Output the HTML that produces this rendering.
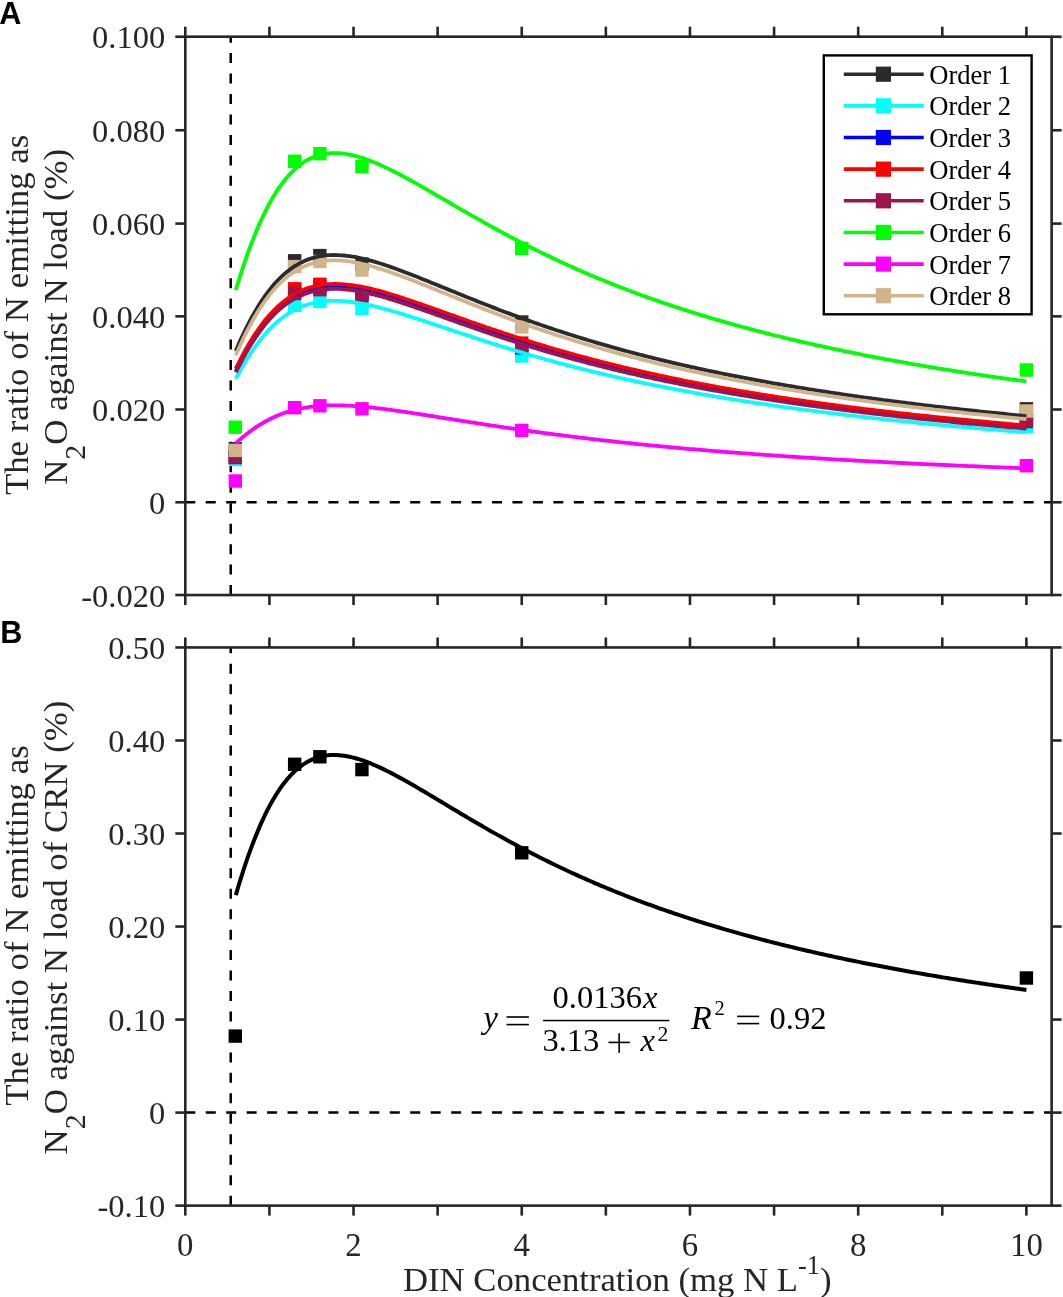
<!DOCTYPE html><html><head><meta charset="utf-8"><style>
html,body{margin:0;padding:0;background:#fff;}
svg{display:block;will-change:transform;}
text{font-family:"Liberation Serif",serif;}
</style></head><body>
<svg width="1063" height="1297" viewBox="0 0 1063 1297">
<rect x="0" y="0" width="1063" height="1297" fill="#fff"/>
<line x1="230.72" y1="595.05" x2="230.72" y2="36.70" stroke="#000" stroke-width="2.5" stroke-dasharray="10 10.46"/>
<line x1="185.30" y1="502.30" x2="1051.63" y2="502.30" stroke="#000" stroke-width="2.5" stroke-dasharray="10 10.447"/>
<rect x="228.60" y="442.10" width="13.4" height="13.4" fill="#2b2b2b"/>
<rect x="287.94" y="254.10" width="13.4" height="13.4" fill="#2b2b2b"/>
<rect x="313.18" y="248.90" width="13.4" height="13.4" fill="#2b2b2b"/>
<rect x="355.23" y="257.30" width="13.4" height="13.4" fill="#2b2b2b"/>
<rect x="515.04" y="315.30" width="13.4" height="13.4" fill="#2b2b2b"/>
<rect x="1019.70" y="402.10" width="13.4" height="13.4" fill="#2b2b2b"/>
<rect x="228.60" y="452.70" width="13.4" height="13.4" fill="#00ffff"/>
<rect x="287.94" y="298.60" width="13.4" height="13.4" fill="#00ffff"/>
<rect x="313.18" y="294.80" width="13.4" height="13.4" fill="#00ffff"/>
<rect x="355.23" y="301.70" width="13.4" height="13.4" fill="#00ffff"/>
<rect x="515.04" y="349.30" width="13.4" height="13.4" fill="#00ffff"/>
<rect x="1019.70" y="419.80" width="13.4" height="13.4" fill="#00ffff"/>
<rect x="228.60" y="450.80" width="13.4" height="13.4" fill="#0000ff"/>
<rect x="287.94" y="284.30" width="13.4" height="13.4" fill="#0000ff"/>
<rect x="313.18" y="280.30" width="13.4" height="13.4" fill="#0000ff"/>
<rect x="355.23" y="287.80" width="13.4" height="13.4" fill="#0000ff"/>
<rect x="515.04" y="341.10" width="13.4" height="13.4" fill="#0000ff"/>
<rect x="1019.70" y="414.80" width="13.4" height="13.4" fill="#0000ff"/>
<rect x="228.60" y="449.80" width="13.4" height="13.4" fill="#ff0000"/>
<rect x="287.94" y="282.10" width="13.4" height="13.4" fill="#ff0000"/>
<rect x="313.18" y="277.60" width="13.4" height="13.4" fill="#ff0000"/>
<rect x="355.23" y="286.30" width="13.4" height="13.4" fill="#ff0000"/>
<rect x="515.04" y="336.40" width="13.4" height="13.4" fill="#ff0000"/>
<rect x="1019.70" y="413.30" width="13.4" height="13.4" fill="#ff0000"/>
<rect x="228.60" y="450.40" width="13.4" height="13.4" fill="#9e1450"/>
<rect x="287.94" y="286.80" width="13.4" height="13.4" fill="#9e1450"/>
<rect x="313.18" y="283.00" width="13.4" height="13.4" fill="#9e1450"/>
<rect x="355.23" y="289.30" width="13.4" height="13.4" fill="#9e1450"/>
<rect x="515.04" y="338.70" width="13.4" height="13.4" fill="#9e1450"/>
<rect x="1019.70" y="414.30" width="13.4" height="13.4" fill="#9e1450"/>
<rect x="228.60" y="420.50" width="13.4" height="13.4" fill="#00ff00"/>
<rect x="287.94" y="154.60" width="13.4" height="13.4" fill="#00ff00"/>
<rect x="313.18" y="147.00" width="13.4" height="13.4" fill="#00ff00"/>
<rect x="355.23" y="159.80" width="13.4" height="13.4" fill="#00ff00"/>
<rect x="515.04" y="241.70" width="13.4" height="13.4" fill="#00ff00"/>
<rect x="1019.70" y="363.30" width="13.4" height="13.4" fill="#00ff00"/>
<rect x="228.60" y="474.30" width="13.4" height="13.4" fill="#ff00ff"/>
<rect x="287.94" y="401.00" width="13.4" height="13.4" fill="#ff00ff"/>
<rect x="313.18" y="399.10" width="13.4" height="13.4" fill="#ff00ff"/>
<rect x="355.23" y="402.10" width="13.4" height="13.4" fill="#ff00ff"/>
<rect x="515.04" y="423.70" width="13.4" height="13.4" fill="#ff00ff"/>
<rect x="1019.70" y="459.00" width="13.4" height="13.4" fill="#ff00ff"/>
<rect x="228.60" y="443.70" width="13.4" height="13.4" fill="#d2b48c"/>
<rect x="287.94" y="259.90" width="13.4" height="13.4" fill="#d2b48c"/>
<rect x="313.18" y="254.80" width="13.4" height="13.4" fill="#d2b48c"/>
<rect x="355.23" y="263.40" width="13.4" height="13.4" fill="#d2b48c"/>
<rect x="515.04" y="320.30" width="13.4" height="13.4" fill="#d2b48c"/>
<rect x="1019.70" y="404.30" width="13.4" height="13.4" fill="#d2b48c"/>
<path d="M235.77,350.88 L238.41,344.77 L241.05,338.89 L243.70,333.24 L246.34,327.82 L248.99,322.62 L251.63,317.66 L254.28,312.92 L256.92,308.41 L259.56,304.11 L262.21,300.04 L264.85,296.18 L267.50,292.54 L270.14,289.10 L272.79,285.87 L275.43,282.83 L278.07,279.99 L280.72,277.33 L283.36,274.86 L286.01,272.56 L288.65,270.44 L291.30,268.48 L293.94,266.68 L296.58,265.03 L299.23,263.53 L301.87,262.17 L304.52,260.95 L307.16,259.86 L309.81,258.90 L312.45,258.05 L315.09,257.32 L317.74,256.70 L320.38,256.19 L323.03,255.77 L325.67,255.45 L328.32,255.22 L330.96,255.08 L333.60,255.02 L336.25,255.03 L338.89,255.12 L341.54,255.28 L344.18,255.50 L346.82,255.79 L349.47,256.14 L352.11,256.54 L354.76,256.99 L357.40,257.49 L360.05,258.04 L362.69,258.63 L365.33,259.27 L367.98,259.94 L370.62,260.65 L373.27,261.39 L375.91,262.16 L378.56,262.96 L381.20,263.79 L383.84,264.64 L386.49,265.52 L389.13,266.42 L391.78,267.34 L394.42,268.28 L397.07,269.23 L399.71,270.20 L402.35,271.19 L405.00,272.19 L407.64,273.20 L410.29,274.22 L412.93,275.25 L415.58,276.29 L418.22,277.33 L420.86,278.39 L423.51,279.45 L426.15,280.51 L428.80,281.58 L431.44,282.65 L434.09,283.73 L436.73,284.80 L439.37,285.88 L442.02,286.96 L444.66,288.04 L447.31,289.12 L449.95,290.20 L452.60,291.28 L455.24,292.36 L457.88,293.43 L460.53,294.51 L463.17,295.58 L465.82,296.65 L468.46,297.71 L471.11,298.77 L473.75,299.83 L476.39,300.88 L479.04,301.93 L481.68,302.98 L484.33,304.02 L486.97,305.05 L489.62,306.09 L492.26,307.11 L494.90,308.13 L497.55,309.15 L500.19,310.16 L502.84,311.16 L505.48,312.16 L508.12,313.15 L510.77,314.13 L513.41,315.11 L516.06,316.09 L518.70,317.06 L521.35,318.02 L523.99,318.97 L526.63,319.92 L529.28,320.86 L531.92,321.80 L534.57,322.73 L537.21,323.65 L539.86,324.57 L542.50,325.48 L545.14,326.38 L547.79,327.28 L550.43,328.17 L553.08,329.05 L555.72,329.93 L558.37,330.80 L561.01,331.67 L563.65,332.53 L566.30,333.38 L568.94,334.22 L571.59,335.06 L574.23,335.90 L576.88,336.72 L579.52,337.54 L582.16,338.36 L584.81,339.16 L587.45,339.96 L590.10,340.76 L592.74,341.55 L595.39,342.33 L598.03,343.11 L600.67,343.88 L603.32,344.64 L605.96,345.40 L608.61,346.16 L611.25,346.90 L613.90,347.64 L616.54,348.38 L619.18,349.11 L621.83,349.83 L624.47,350.55 L627.12,351.26 L629.76,351.97 L632.41,352.67 L635.05,353.37 L637.69,354.06 L640.34,354.74 L642.98,355.42 L645.63,356.10 L648.27,356.76 L650.91,357.43 L653.56,358.09 L656.20,358.74 L658.85,359.39 L661.49,360.03 L664.14,360.67 L666.78,361.30 L669.42,361.93 L672.07,362.55 L674.71,363.17 L677.36,363.79 L680.00,364.40 L682.65,365.00 L685.29,365.60 L687.93,366.20 L690.58,366.79 L693.22,367.37 L695.87,367.95 L698.51,368.53 L701.16,369.10 L703.80,369.67 L706.44,370.24 L709.09,370.80 L711.73,371.35 L714.38,371.90 L717.02,372.45 L719.67,372.99 L722.31,373.53 L724.95,374.07 L727.60,374.60 L730.24,375.12 L732.89,375.65 L735.53,376.17 L738.18,376.68 L740.82,377.19 L743.46,377.70 L746.11,378.20 L748.75,378.70 L751.40,379.20 L754.04,379.69 L756.69,380.18 L759.33,380.67 L761.97,381.15 L764.62,381.63 L767.26,382.10 L769.91,382.58 L772.55,383.04 L775.20,383.51 L777.84,383.97 L780.48,384.43 L783.13,384.88 L785.77,385.34 L788.42,385.78 L791.06,386.23 L793.71,386.67 L796.35,387.11 L798.99,387.55 L801.64,387.98 L804.28,388.41 L806.93,388.84 L809.57,389.26 L812.21,389.68 L814.86,390.10 L817.50,390.51 L820.15,390.93 L822.79,391.34 L825.44,391.74 L828.08,392.15 L830.72,392.55 L833.37,392.95 L836.01,393.34 L838.66,393.73 L841.30,394.12 L843.95,394.51 L846.59,394.90 L849.23,395.28 L851.88,395.66 L854.52,396.04 L857.17,396.41 L859.81,396.78 L862.46,397.15 L865.10,397.52 L867.74,397.89 L870.39,398.25 L873.03,398.61 L875.68,398.97 L878.32,399.32 L880.97,399.68 L883.61,400.03 L886.25,400.38 L888.90,400.72 L891.54,401.07 L894.19,401.41 L896.83,401.75 L899.48,402.09 L902.12,402.42 L904.76,402.75 L907.41,403.09 L910.05,403.41 L912.70,403.74 L915.34,404.07 L917.99,404.39 L920.63,404.71 L923.27,405.03 L925.92,405.35 L928.56,405.66 L931.21,405.97 L933.85,406.28 L936.50,406.59 L939.14,406.90 L941.78,407.21 L944.43,407.51 L947.07,407.81 L949.72,408.11 L952.36,408.41 L955.00,408.71 L957.65,409.00 L960.29,409.29 L962.94,409.58 L965.58,409.87 L968.23,410.16 L970.87,410.45 L973.51,410.73 L976.16,411.01 L978.80,411.29 L981.45,411.57 L984.09,411.85 L986.74,412.12 L989.38,412.40 L992.02,412.67 L994.67,412.94 L997.31,413.21 L999.96,413.48 L1002.60,413.74 L1005.25,414.01 L1007.89,414.27 L1010.53,414.53 L1013.18,414.79 L1015.82,415.05 L1018.47,415.31 L1021.11,415.57 L1023.76,415.82 L1026.40,416.07" fill="none" stroke="#2b2b2b" stroke-width="3.8" stroke-linejoin="round"/>
<path d="M235.77,378.96 L238.41,373.98 L241.05,369.18 L243.70,364.57 L246.34,360.15 L248.99,355.91 L251.63,351.86 L254.28,347.99 L256.92,344.31 L259.56,340.81 L262.21,337.48 L264.85,334.34 L267.50,331.36 L270.14,328.56 L272.79,325.92 L275.43,323.44 L278.07,321.12 L280.72,318.96 L283.36,316.94 L286.01,315.07 L288.65,313.33 L291.30,311.73 L293.94,310.27 L296.58,308.92 L299.23,307.70 L301.87,306.60 L304.52,305.60 L307.16,304.72 L309.81,303.93 L312.45,303.25 L315.09,302.66 L317.74,302.16 L320.38,301.74 L323.03,301.40 L325.67,301.15 L328.32,300.96 L330.96,300.85 L333.60,300.81 L336.25,300.82 L338.89,300.90 L341.54,301.03 L344.18,301.22 L346.82,301.46 L349.47,301.75 L352.11,302.08 L354.76,302.45 L357.40,302.87 L360.05,303.32 L362.69,303.81 L365.33,304.33 L367.98,304.88 L370.62,305.46 L373.27,306.07 L375.91,306.70 L378.56,307.36 L381.20,308.04 L383.84,308.74 L386.49,309.46 L389.13,310.20 L391.78,310.95 L394.42,311.72 L397.07,312.51 L399.71,313.30 L402.35,314.11 L405.00,314.93 L407.64,315.76 L410.29,316.59 L412.93,317.44 L415.58,318.29 L418.22,319.14 L420.86,320.01 L423.51,320.87 L426.15,321.74 L428.80,322.62 L431.44,323.50 L434.09,324.38 L436.73,325.26 L439.37,326.14 L442.02,327.02 L444.66,327.91 L447.31,328.79 L449.95,329.67 L452.60,330.55 L455.24,331.44 L457.88,332.32 L460.53,333.19 L463.17,334.07 L465.82,334.94 L468.46,335.81 L471.11,336.68 L473.75,337.54 L476.39,338.40 L479.04,339.26 L481.68,340.12 L484.33,340.97 L486.97,341.81 L489.62,342.65 L492.26,343.49 L494.90,344.32 L497.55,345.15 L500.19,345.98 L502.84,346.80 L505.48,347.61 L508.12,348.42 L510.77,349.23 L513.41,350.03 L516.06,350.82 L518.70,351.61 L521.35,352.40 L523.99,353.18 L526.63,353.95 L529.28,354.72 L531.92,355.48 L534.57,356.24 L537.21,357.00 L539.86,357.74 L542.50,358.49 L545.14,359.22 L547.79,359.96 L550.43,360.68 L553.08,361.40 L555.72,362.12 L558.37,362.83 L561.01,363.54 L563.65,364.24 L566.30,364.93 L568.94,365.62 L571.59,366.31 L574.23,366.98 L576.88,367.66 L579.52,368.33 L582.16,368.99 L584.81,369.65 L587.45,370.30 L590.10,370.95 L592.74,371.59 L595.39,372.23 L598.03,372.87 L600.67,373.49 L603.32,374.12 L605.96,374.74 L608.61,375.35 L611.25,375.96 L613.90,376.56 L616.54,377.16 L619.18,377.76 L621.83,378.35 L624.47,378.93 L627.12,379.51 L629.76,380.09 L632.41,380.66 L635.05,381.23 L637.69,381.79 L640.34,382.35 L642.98,382.90 L645.63,383.45 L648.27,384.00 L650.91,384.54 L653.56,385.07 L656.20,385.61 L658.85,386.13 L661.49,386.66 L664.14,387.18 L666.78,387.69 L669.42,388.20 L672.07,388.71 L674.71,389.22 L677.36,389.72 L680.00,390.21 L682.65,390.71 L685.29,391.19 L687.93,391.68 L690.58,392.16 L693.22,392.64 L695.87,393.11 L698.51,393.58 L701.16,394.05 L703.80,394.51 L706.44,394.97 L709.09,395.42 L711.73,395.88 L714.38,396.33 L717.02,396.77 L719.67,397.21 L722.31,397.65 L724.95,398.09 L727.60,398.52 L730.24,398.95 L732.89,399.37 L735.53,399.80 L738.18,400.22 L740.82,400.63 L743.46,401.05 L746.11,401.46 L748.75,401.86 L751.40,402.27 L754.04,402.67 L756.69,403.07 L759.33,403.46 L761.97,403.85 L764.62,404.24 L767.26,404.63 L769.91,405.01 L772.55,405.40 L775.20,405.77 L777.84,406.15 L780.48,406.52 L783.13,406.89 L785.77,407.26 L788.42,407.62 L791.06,407.99 L793.71,408.35 L796.35,408.70 L798.99,409.06 L801.64,409.41 L804.28,409.76 L806.93,410.11 L809.57,410.45 L812.21,410.80 L814.86,411.14 L817.50,411.47 L820.15,411.81 L822.79,412.14 L825.44,412.47 L828.08,412.80 L830.72,413.13 L833.37,413.45 L836.01,413.77 L838.66,414.09 L841.30,414.41 L843.95,414.73 L846.59,415.04 L849.23,415.35 L851.88,415.66 L854.52,415.97 L857.17,416.27 L859.81,416.57 L862.46,416.88 L865.10,417.17 L867.74,417.47 L870.39,417.77 L873.03,418.06 L875.68,418.35 L878.32,418.64 L880.97,418.93 L883.61,419.21 L886.25,419.50 L888.90,419.78 L891.54,420.06 L894.19,420.34 L896.83,420.61 L899.48,420.89 L902.12,421.16 L904.76,421.43 L907.41,421.70 L910.05,421.97 L912.70,422.23 L915.34,422.50 L917.99,422.76 L920.63,423.02 L923.27,423.28 L925.92,423.54 L928.56,423.79 L931.21,424.05 L933.85,424.30 L936.50,424.55 L939.14,424.80 L941.78,425.05 L944.43,425.30 L947.07,425.54 L949.72,425.79 L952.36,426.03 L955.00,426.27 L957.65,426.51 L960.29,426.75 L962.94,426.98 L965.58,427.22 L968.23,427.45 L970.87,427.68 L973.51,427.92 L976.16,428.14 L978.80,428.37 L981.45,428.60 L984.09,428.83 L986.74,429.05 L989.38,429.27 L992.02,429.49 L994.67,429.71 L997.31,429.93 L999.96,430.15 L1002.60,430.37 L1005.25,430.58 L1007.89,430.80 L1010.53,431.01 L1013.18,431.22 L1015.82,431.43 L1018.47,431.64 L1021.11,431.85 L1023.76,432.05 L1026.40,432.26" fill="none" stroke="#00ffff" stroke-width="3.8" stroke-linejoin="round"/>
<path d="M235.77,371.24 L238.41,365.93 L241.05,360.80 L243.70,355.88 L246.34,351.15 L248.99,346.61 L251.63,342.28 L254.28,338.13 L256.92,334.19 L259.56,330.43 L262.21,326.87 L264.85,323.49 L267.50,320.29 L270.14,317.28 L272.79,314.44 L275.43,311.77 L278.07,309.27 L280.72,306.93 L283.36,304.75 L286.01,302.73 L288.65,300.85 L291.30,299.12 L293.94,297.53 L296.58,296.07 L299.23,294.74 L301.87,293.54 L304.52,292.45 L307.16,291.48 L309.81,290.62 L312.45,289.86 L315.09,289.21 L317.74,288.65 L320.38,288.18 L323.03,287.80 L325.67,287.51 L328.32,287.29 L330.96,287.15 L333.60,287.08 L336.25,287.08 L338.89,287.14 L341.54,287.27 L344.18,287.45 L346.82,287.69 L349.47,287.97 L352.11,288.31 L354.76,288.70 L357.40,289.13 L360.05,289.59 L362.69,290.10 L365.33,290.64 L367.98,291.22 L370.62,291.83 L373.27,292.47 L375.91,293.13 L378.56,293.83 L381.20,294.54 L383.84,295.28 L386.49,296.04 L389.13,296.82 L391.78,297.62 L394.42,298.43 L397.07,299.26 L399.71,300.10 L402.35,300.96 L405.00,301.82 L407.64,302.70 L410.29,303.59 L412.93,304.48 L415.58,305.39 L418.22,306.30 L420.86,307.21 L423.51,308.13 L426.15,309.06 L428.80,309.99 L431.44,310.92 L434.09,311.86 L436.73,312.80 L439.37,313.74 L442.02,314.68 L444.66,315.62 L447.31,316.56 L449.95,317.50 L452.60,318.44 L455.24,319.38 L457.88,320.32 L460.53,321.25 L463.17,322.18 L465.82,323.12 L468.46,324.04 L471.11,324.97 L473.75,325.89 L476.39,326.81 L479.04,327.73 L481.68,328.64 L484.33,329.54 L486.97,330.45 L489.62,331.35 L492.26,332.24 L494.90,333.13 L497.55,334.02 L500.19,334.90 L502.84,335.77 L505.48,336.64 L508.12,337.51 L510.77,338.37 L513.41,339.22 L516.06,340.07 L518.70,340.92 L521.35,341.76 L523.99,342.59 L526.63,343.42 L529.28,344.24 L531.92,345.06 L534.57,345.87 L537.21,346.67 L539.86,347.47 L542.50,348.27 L545.14,349.06 L547.79,349.84 L550.43,350.62 L553.08,351.39 L555.72,352.15 L558.37,352.91 L561.01,353.67 L563.65,354.42 L566.30,355.16 L568.94,355.90 L571.59,356.63 L574.23,357.36 L576.88,358.08 L579.52,358.79 L582.16,359.50 L584.81,360.21 L587.45,360.91 L590.10,361.60 L592.74,362.29 L595.39,362.97 L598.03,363.65 L600.67,364.32 L603.32,364.99 L605.96,365.65 L608.61,366.31 L611.25,366.96 L613.90,367.61 L616.54,368.25 L619.18,368.89 L621.83,369.52 L624.47,370.14 L627.12,370.77 L629.76,371.38 L632.41,372.00 L635.05,372.60 L637.69,373.20 L640.34,373.80 L642.98,374.40 L645.63,374.98 L648.27,375.57 L650.91,376.15 L653.56,376.72 L656.20,377.29 L658.85,377.86 L661.49,378.42 L664.14,378.98 L666.78,379.53 L669.42,380.08 L672.07,380.62 L674.71,381.16 L677.36,381.70 L680.00,382.23 L682.65,382.75 L685.29,383.28 L687.93,383.80 L690.58,384.31 L693.22,384.82 L695.87,385.33 L698.51,385.83 L701.16,386.33 L703.80,386.83 L706.44,387.32 L709.09,387.81 L711.73,388.29 L714.38,388.77 L717.02,389.25 L719.67,389.73 L722.31,390.20 L724.95,390.66 L727.60,391.12 L730.24,391.58 L732.89,392.04 L735.53,392.49 L738.18,392.94 L740.82,393.39 L743.46,393.83 L746.11,394.27 L748.75,394.71 L751.40,395.14 L754.04,395.57 L756.69,396.00 L759.33,396.42 L761.97,396.84 L764.62,397.26 L767.26,397.67 L769.91,398.08 L772.55,398.49 L775.20,398.90 L777.84,399.30 L780.48,399.70 L783.13,400.10 L785.77,400.49 L788.42,400.88 L791.06,401.27 L793.71,401.65 L796.35,402.04 L798.99,402.42 L801.64,402.80 L804.28,403.17 L806.93,403.54 L809.57,403.91 L812.21,404.28 L814.86,404.64 L817.50,405.01 L820.15,405.36 L822.79,405.72 L825.44,406.08 L828.08,406.43 L830.72,406.78 L833.37,407.13 L836.01,407.47 L838.66,407.81 L841.30,408.15 L843.95,408.49 L846.59,408.83 L849.23,409.16 L851.88,409.49 L854.52,409.82 L857.17,410.15 L859.81,410.47 L862.46,410.79 L865.10,411.11 L867.74,411.43 L870.39,411.75 L873.03,412.06 L875.68,412.37 L878.32,412.68 L880.97,412.99 L883.61,413.30 L886.25,413.60 L888.90,413.90 L891.54,414.20 L894.19,414.50 L896.83,414.80 L899.48,415.09 L902.12,415.38 L904.76,415.68 L907.41,415.96 L910.05,416.25 L912.70,416.54 L915.34,416.82 L917.99,417.10 L920.63,417.38 L923.27,417.66 L925.92,417.93 L928.56,418.21 L931.21,418.48 L933.85,418.75 L936.50,419.02 L939.14,419.29 L941.78,419.56 L944.43,419.82 L947.07,420.08 L949.72,420.34 L952.36,420.60 L955.00,420.86 L957.65,421.12 L960.29,421.37 L962.94,421.63 L965.58,421.88 L968.23,422.13 L970.87,422.38 L973.51,422.63 L976.16,422.87 L978.80,423.12 L981.45,423.36 L984.09,423.60 L986.74,423.84 L989.38,424.08 L992.02,424.32 L994.67,424.55 L997.31,424.79 L999.96,425.02 L1002.60,425.25 L1005.25,425.48 L1007.89,425.71 L1010.53,425.94 L1013.18,426.17 L1015.82,426.39 L1018.47,426.62 L1021.11,426.84 L1023.76,427.06 L1026.40,427.28" fill="none" stroke="#0000ff" stroke-width="3.8" stroke-linejoin="round"/>
<path d="M235.77,368.68 L238.41,363.30 L241.05,358.13 L243.70,353.15 L246.34,348.38 L248.99,343.81 L251.63,339.44 L254.28,335.27 L256.92,331.29 L259.56,327.51 L262.21,323.93 L264.85,320.53 L267.50,317.32 L270.14,314.29 L272.79,311.43 L275.43,308.76 L278.07,306.25 L280.72,303.90 L283.36,301.71 L286.01,299.68 L288.65,297.80 L291.30,296.06 L293.94,294.47 L296.58,293.01 L299.23,291.67 L301.87,290.46 L304.52,289.38 L307.16,288.40 L309.81,287.54 L312.45,286.78 L315.09,286.12 L317.74,285.56 L320.38,285.09 L323.03,284.71 L325.67,284.41 L328.32,284.20 L330.96,284.05 L333.60,283.98 L336.25,283.98 L338.89,284.04 L341.54,284.17 L344.18,284.35 L346.82,284.58 L349.47,284.87 L352.11,285.21 L354.76,285.59 L357.40,286.02 L360.05,286.48 L362.69,286.99 L365.33,287.53 L367.98,288.11 L370.62,288.72 L373.27,289.36 L375.91,290.02 L378.56,290.71 L381.20,291.43 L383.84,292.17 L386.49,292.93 L389.13,293.71 L391.78,294.50 L394.42,295.32 L397.07,296.15 L399.71,296.99 L402.35,297.85 L405.00,298.71 L407.64,299.59 L410.29,300.48 L412.93,301.38 L415.58,302.28 L418.22,303.20 L420.86,304.11 L423.51,305.04 L426.15,305.97 L428.80,306.90 L431.44,307.83 L434.09,308.77 L436.73,309.71 L439.37,310.66 L442.02,311.60 L444.66,312.54 L447.31,313.49 L449.95,314.43 L452.60,315.38 L455.24,316.32 L457.88,317.26 L460.53,318.20 L463.17,319.14 L465.82,320.07 L468.46,321.01 L471.11,321.94 L473.75,322.86 L476.39,323.79 L479.04,324.71 L481.68,325.62 L484.33,326.53 L486.97,327.44 L489.62,328.35 L492.26,329.25 L494.90,330.14 L497.55,331.03 L500.19,331.92 L502.84,332.80 L505.48,333.68 L508.12,334.55 L510.77,335.41 L513.41,336.27 L516.06,337.13 L518.70,337.98 L521.35,338.82 L523.99,339.66 L526.63,340.50 L529.28,341.33 L531.92,342.15 L534.57,342.97 L537.21,343.78 L539.86,344.59 L542.50,345.39 L545.14,346.18 L547.79,346.97 L550.43,347.76 L553.08,348.53 L555.72,349.31 L558.37,350.07 L561.01,350.83 L563.65,351.59 L566.30,352.34 L568.94,353.09 L571.59,353.82 L574.23,354.56 L576.88,355.29 L579.52,356.01 L582.16,356.73 L584.81,357.44 L587.45,358.14 L590.10,358.84 L592.74,359.54 L595.39,360.23 L598.03,360.91 L600.67,361.59 L603.32,362.27 L605.96,362.94 L608.61,363.60 L611.25,364.26 L613.90,364.91 L616.54,365.56 L619.18,366.21 L621.83,366.84 L624.47,367.48 L627.12,368.11 L629.76,368.73 L632.41,369.35 L635.05,369.96 L637.69,370.57 L640.34,371.18 L642.98,371.78 L645.63,372.37 L648.27,372.96 L650.91,373.55 L653.56,374.13 L656.20,374.71 L658.85,375.28 L661.49,375.85 L664.14,376.41 L666.78,376.97 L669.42,377.53 L672.07,378.08 L674.71,378.63 L677.36,379.17 L680.00,379.71 L682.65,380.24 L685.29,380.77 L687.93,381.30 L690.58,381.82 L693.22,382.34 L695.87,382.85 L698.51,383.36 L701.16,383.87 L703.80,384.37 L706.44,384.87 L709.09,385.36 L711.73,385.85 L714.38,386.34 L717.02,386.83 L719.67,387.31 L722.31,387.78 L724.95,388.26 L727.60,388.72 L730.24,389.19 L732.89,389.65 L735.53,390.11 L738.18,390.57 L740.82,391.02 L743.46,391.47 L746.11,391.92 L748.75,392.36 L751.40,392.80 L754.04,393.23 L756.69,393.67 L759.33,394.10 L761.97,394.52 L764.62,394.95 L767.26,395.37 L769.91,395.78 L772.55,396.20 L775.20,396.61 L777.84,397.02 L780.48,397.43 L783.13,397.83 L785.77,398.23 L788.42,398.63 L791.06,399.02 L793.71,399.41 L796.35,399.80 L798.99,400.19 L801.64,400.57 L804.28,400.95 L806.93,401.33 L809.57,401.70 L812.21,402.08 L814.86,402.45 L817.50,402.81 L820.15,403.18 L822.79,403.54 L825.44,403.90 L828.08,404.26 L830.72,404.62 L833.37,404.97 L836.01,405.32 L838.66,405.67 L841.30,406.01 L843.95,406.36 L846.59,406.70 L849.23,407.04 L851.88,407.37 L854.52,407.71 L857.17,408.04 L859.81,408.37 L862.46,408.70 L865.10,409.02 L867.74,409.35 L870.39,409.67 L873.03,409.99 L875.68,410.31 L878.32,410.62 L880.97,410.93 L883.61,411.25 L886.25,411.55 L888.90,411.86 L891.54,412.17 L894.19,412.47 L896.83,412.77 L899.48,413.07 L902.12,413.37 L904.76,413.66 L907.41,413.96 L910.05,414.25 L912.70,414.54 L915.34,414.83 L917.99,415.11 L920.63,415.40 L923.27,415.68 L925.92,415.96 L928.56,416.24 L931.21,416.52 L933.85,416.79 L936.50,417.07 L939.14,417.34 L941.78,417.61 L944.43,417.88 L947.07,418.15 L949.72,418.42 L952.36,418.68 L955.00,418.94 L957.65,419.20 L960.29,419.46 L962.94,419.72 L965.58,419.98 L968.23,420.23 L970.87,420.49 L973.51,420.74 L976.16,420.99 L978.80,421.24 L981.45,421.49 L984.09,421.73 L986.74,421.98 L989.38,422.22 L992.02,422.46 L994.67,422.70 L997.31,422.94 L999.96,423.18 L1002.60,423.41 L1005.25,423.65 L1007.89,423.88 L1010.53,424.11 L1013.18,424.35 L1015.82,424.58 L1018.47,424.80 L1021.11,425.03 L1023.76,425.26 L1026.40,425.48" fill="none" stroke="#ff0000" stroke-width="3.8" stroke-linejoin="round"/>
<path d="M235.77,372.41 L238.41,367.12 L241.05,362.02 L243.70,357.12 L246.34,352.41 L248.99,347.90 L251.63,343.58 L254.28,339.46 L256.92,335.53 L259.56,331.79 L262.21,328.24 L264.85,324.88 L267.50,321.70 L270.14,318.70 L272.79,315.88 L275.43,313.23 L278.07,310.74 L280.72,308.42 L283.36,306.26 L286.01,304.25 L288.65,302.38 L291.30,300.67 L293.94,299.09 L296.58,297.65 L299.23,296.33 L301.87,295.14 L304.52,294.07 L307.16,293.12 L309.81,292.27 L312.45,291.53 L315.09,290.89 L317.74,290.34 L320.38,289.89 L323.03,289.53 L325.67,289.24 L328.32,289.04 L330.96,288.91 L333.60,288.86 L336.25,288.87 L338.89,288.95 L341.54,289.09 L344.18,289.28 L346.82,289.53 L349.47,289.83 L352.11,290.18 L354.76,290.58 L357.40,291.02 L360.05,291.50 L362.69,292.02 L365.33,292.57 L367.98,293.16 L370.62,293.78 L373.27,294.42 L375.91,295.10 L378.56,295.80 L381.20,296.53 L383.84,297.27 L386.49,298.04 L389.13,298.83 L391.78,299.63 L394.42,300.45 L397.07,301.29 L399.71,302.13 L402.35,303.00 L405.00,303.87 L407.64,304.75 L410.29,305.64 L412.93,306.54 L415.58,307.45 L418.22,308.37 L420.86,309.29 L423.51,310.21 L426.15,311.14 L428.80,312.07 L431.44,313.01 L434.09,313.95 L436.73,314.89 L439.37,315.83 L442.02,316.77 L444.66,317.72 L447.31,318.66 L449.95,319.60 L452.60,320.54 L455.24,321.48 L457.88,322.42 L460.53,323.35 L463.17,324.29 L465.82,325.22 L468.46,326.15 L471.11,327.07 L473.75,327.99 L476.39,328.91 L479.04,329.83 L481.68,330.74 L484.33,331.64 L486.97,332.55 L489.62,333.44 L492.26,334.34 L494.90,335.22 L497.55,336.11 L500.19,336.99 L502.84,337.86 L505.48,338.73 L508.12,339.59 L510.77,340.45 L513.41,341.30 L516.06,342.15 L518.70,342.99 L521.35,343.82 L523.99,344.66 L526.63,345.48 L529.28,346.30 L531.92,347.11 L534.57,347.92 L537.21,348.72 L539.86,349.52 L542.50,350.31 L545.14,351.09 L547.79,351.87 L550.43,352.65 L553.08,353.42 L555.72,354.18 L558.37,354.93 L561.01,355.68 L563.65,356.43 L566.30,357.17 L568.94,357.90 L571.59,358.63 L574.23,359.35 L576.88,360.07 L579.52,360.78 L582.16,361.49 L584.81,362.19 L587.45,362.88 L590.10,363.57 L592.74,364.26 L595.39,364.94 L598.03,365.61 L600.67,366.28 L603.32,366.94 L605.96,367.60 L608.61,368.25 L611.25,368.90 L613.90,369.54 L616.54,370.18 L619.18,370.81 L621.83,371.43 L624.47,372.06 L627.12,372.67 L629.76,373.29 L632.41,373.89 L635.05,374.50 L637.69,375.09 L640.34,375.69 L642.98,376.27 L645.63,376.86 L648.27,377.44 L650.91,378.01 L653.56,378.58 L656.20,379.15 L658.85,379.71 L661.49,380.26 L664.14,380.82 L666.78,381.36 L669.42,381.91 L672.07,382.45 L674.71,382.98 L677.36,383.51 L680.00,384.04 L682.65,384.56 L685.29,385.08 L687.93,385.59 L690.58,386.10 L693.22,386.61 L695.87,387.11 L698.51,387.61 L701.16,388.11 L703.80,388.60 L706.44,389.09 L709.09,389.57 L711.73,390.05 L714.38,390.52 L717.02,391.00 L719.67,391.47 L722.31,391.93 L724.95,392.39 L727.60,392.85 L730.24,393.31 L732.89,393.76 L735.53,394.21 L738.18,394.65 L740.82,395.09 L743.46,395.53 L746.11,395.97 L748.75,396.40 L751.40,396.83 L754.04,397.25 L756.69,397.67 L759.33,398.09 L761.97,398.51 L764.62,398.92 L767.26,399.33 L769.91,399.74 L772.55,400.14 L775.20,400.54 L777.84,400.94 L780.48,401.34 L783.13,401.73 L785.77,402.12 L788.42,402.51 L791.06,402.89 L793.71,403.27 L796.35,403.65 L798.99,404.02 L801.64,404.40 L804.28,404.77 L806.93,405.14 L809.57,405.50 L812.21,405.86 L814.86,406.23 L817.50,406.58 L820.15,406.94 L822.79,407.29 L825.44,407.64 L828.08,407.99 L830.72,408.33 L833.37,408.68 L836.01,409.02 L838.66,409.36 L841.30,409.69 L843.95,410.03 L846.59,410.36 L849.23,410.69 L851.88,411.02 L854.52,411.34 L857.17,411.66 L859.81,411.98 L862.46,412.30 L865.10,412.62 L867.74,412.93 L870.39,413.25 L873.03,413.56 L875.68,413.86 L878.32,414.17 L880.97,414.47 L883.61,414.78 L886.25,415.08 L888.90,415.37 L891.54,415.67 L894.19,415.97 L896.83,416.26 L899.48,416.55 L902.12,416.84 L904.76,417.12 L907.41,417.41 L910.05,417.69 L912.70,417.97 L915.34,418.25 L917.99,418.53 L920.63,418.81 L923.27,419.08 L925.92,419.35 L928.56,419.62 L931.21,419.89 L933.85,420.16 L936.50,420.43 L939.14,420.69 L941.78,420.95 L944.43,421.21 L947.07,421.47 L949.72,421.73 L952.36,421.99 L955.00,422.24 L957.65,422.50 L960.29,422.75 L962.94,423.00 L965.58,423.25 L968.23,423.49 L970.87,423.74 L973.51,423.98 L976.16,424.23 L978.80,424.47 L981.45,424.71 L984.09,424.94 L986.74,425.18 L989.38,425.42 L992.02,425.65 L994.67,425.88 L997.31,426.12 L999.96,426.35 L1002.60,426.57 L1005.25,426.80 L1007.89,427.03 L1010.53,427.25 L1013.18,427.48 L1015.82,427.70 L1018.47,427.92 L1021.11,428.14 L1023.76,428.36 L1026.40,428.57" fill="none" stroke="#9e1450" stroke-width="3.8" stroke-linejoin="round"/>
<path d="M235.77,290.07 L238.41,281.42 L241.05,273.08 L243.70,265.06 L246.34,257.36 L248.99,249.98 L251.63,242.91 L254.28,236.16 L256.92,229.73 L259.56,223.61 L262.21,217.80 L264.85,212.30 L267.50,207.09 L270.14,202.17 L272.79,197.54 L275.43,193.20 L278.07,189.12 L280.72,185.31 L283.36,181.77 L286.01,178.47 L288.65,175.41 L291.30,172.59 L293.94,170.00 L296.58,167.62 L299.23,165.46 L301.87,163.50 L304.52,161.74 L307.16,160.16 L309.81,158.76 L312.45,157.54 L315.09,156.48 L317.74,155.57 L320.38,154.82 L323.03,154.21 L325.67,153.73 L328.32,153.39 L330.96,153.17 L333.60,153.06 L336.25,153.07 L338.89,153.18 L341.54,153.40 L344.18,153.70 L346.82,154.10 L349.47,154.58 L352.11,155.14 L354.76,155.78 L357.40,156.49 L360.05,157.26 L362.69,158.10 L365.33,158.99 L367.98,159.94 L370.62,160.95 L373.27,162.00 L375.91,163.09 L378.56,164.23 L381.20,165.41 L383.84,166.62 L386.49,167.87 L389.13,169.15 L391.78,170.45 L394.42,171.79 L397.07,173.15 L399.71,174.53 L402.35,175.93 L405.00,177.35 L407.64,178.79 L410.29,180.24 L412.93,181.71 L415.58,183.19 L418.22,184.68 L420.86,186.18 L423.51,187.68 L426.15,189.20 L428.80,190.72 L431.44,192.25 L434.09,193.78 L436.73,195.31 L439.37,196.85 L442.02,198.39 L444.66,199.93 L447.31,201.46 L449.95,203.00 L452.60,204.54 L455.24,206.07 L457.88,207.60 L460.53,209.13 L463.17,210.66 L465.82,212.18 L468.46,213.69 L471.11,215.20 L473.75,216.71 L476.39,218.21 L479.04,219.70 L481.68,221.19 L484.33,222.67 L486.97,224.15 L489.62,225.61 L492.26,227.07 L494.90,228.52 L497.55,229.97 L500.19,231.40 L502.84,232.83 L505.48,234.25 L508.12,235.66 L510.77,237.06 L513.41,238.46 L516.06,239.84 L518.70,241.22 L521.35,242.59 L523.99,243.94 L526.63,245.29 L529.28,246.63 L531.92,247.96 L534.57,249.28 L537.21,250.60 L539.86,251.90 L542.50,253.19 L545.14,254.48 L547.79,255.75 L550.43,257.02 L553.08,258.27 L555.72,259.52 L558.37,260.76 L561.01,261.99 L563.65,263.21 L566.30,264.42 L568.94,265.62 L571.59,266.81 L574.23,267.99 L576.88,269.17 L579.52,270.33 L582.16,271.49 L584.81,272.63 L587.45,273.77 L590.10,274.90 L592.74,276.02 L595.39,277.13 L598.03,278.23 L600.67,279.33 L603.32,280.41 L605.96,281.49 L608.61,282.56 L611.25,283.62 L613.90,284.67 L616.54,285.71 L619.18,286.74 L621.83,287.77 L624.47,288.79 L627.12,289.80 L629.76,290.80 L632.41,291.80 L635.05,292.78 L637.69,293.76 L640.34,294.73 L642.98,295.70 L645.63,296.65 L648.27,297.60 L650.91,298.54 L653.56,299.48 L656.20,300.40 L658.85,301.32 L661.49,302.23 L664.14,303.14 L666.78,304.03 L669.42,304.92 L672.07,305.81 L674.71,306.68 L677.36,307.55 L680.00,308.42 L682.65,309.27 L685.29,310.12 L687.93,310.97 L690.58,311.80 L693.22,312.63 L695.87,313.46 L698.51,314.27 L701.16,315.08 L703.80,315.89 L706.44,316.69 L709.09,317.48 L711.73,318.27 L714.38,319.05 L717.02,319.82 L719.67,320.59 L722.31,321.35 L724.95,322.11 L727.60,322.86 L730.24,323.61 L732.89,324.35 L735.53,325.08 L738.18,325.81 L740.82,326.53 L743.46,327.25 L746.11,327.96 L748.75,328.67 L751.40,329.37 L754.04,330.07 L756.69,330.76 L759.33,331.45 L761.97,332.13 L764.62,332.81 L767.26,333.48 L769.91,334.15 L772.55,334.81 L775.20,335.47 L777.84,336.12 L780.48,336.77 L783.13,337.41 L785.77,338.05 L788.42,338.68 L791.06,339.31 L793.71,339.94 L796.35,340.56 L798.99,341.18 L801.64,341.79 L804.28,342.40 L806.93,343.00 L809.57,343.60 L812.21,344.19 L814.86,344.78 L817.50,345.37 L820.15,345.95 L822.79,346.53 L825.44,347.11 L828.08,347.68 L830.72,348.24 L833.37,348.81 L836.01,349.36 L838.66,349.92 L841.30,350.47 L843.95,351.02 L846.59,351.56 L849.23,352.10 L851.88,352.64 L854.52,353.17 L857.17,353.70 L859.81,354.23 L862.46,354.75 L865.10,355.27 L867.74,355.78 L870.39,356.30 L873.03,356.80 L875.68,357.31 L878.32,357.81 L880.97,358.31 L883.61,358.81 L886.25,359.30 L888.90,359.79 L891.54,360.27 L894.19,360.76 L896.83,361.24 L899.48,361.71 L902.12,362.19 L904.76,362.66 L907.41,363.12 L910.05,363.59 L912.70,364.05 L915.34,364.51 L917.99,364.96 L920.63,365.42 L923.27,365.87 L925.92,366.31 L928.56,366.76 L931.21,367.20 L933.85,367.64 L936.50,368.07 L939.14,368.51 L941.78,368.94 L944.43,369.37 L947.07,369.79 L949.72,370.21 L952.36,370.64 L955.00,371.05 L957.65,371.47 L960.29,371.88 L962.94,372.29 L965.58,372.70 L968.23,373.10 L970.87,373.51 L973.51,373.91 L976.16,374.31 L978.80,374.70 L981.45,375.09 L984.09,375.49 L986.74,375.87 L989.38,376.26 L992.02,376.64 L994.67,377.03 L997.31,377.41 L999.96,377.78 L1002.60,378.16 L1005.25,378.53 L1007.89,378.90 L1010.53,379.27 L1013.18,379.64 L1015.82,380.00 L1018.47,380.36 L1021.11,380.73 L1023.76,381.08 L1026.40,381.44" fill="none" stroke="#00ff00" stroke-width="3.8" stroke-linejoin="round"/>
<path d="M235.77,443.26 L238.41,440.87 L241.05,438.56 L243.70,436.35 L246.34,434.22 L248.99,432.18 L251.63,430.23 L254.28,428.36 L256.92,426.58 L259.56,424.89 L262.21,423.29 L264.85,421.77 L267.50,420.33 L270.14,418.97 L272.79,417.69 L275.43,416.48 L278.07,415.36 L280.72,414.30 L283.36,413.32 L286.01,412.41 L288.65,411.56 L291.30,410.78 L293.94,410.06 L296.58,409.40 L299.23,408.80 L301.87,408.26 L304.52,407.76 L307.16,407.32 L309.81,406.93 L312.45,406.59 L315.09,406.30 L317.74,406.04 L320.38,405.83 L323.03,405.66 L325.67,405.52 L328.32,405.42 L330.96,405.35 L333.60,405.32 L336.25,405.32 L338.89,405.34 L341.54,405.40 L344.18,405.48 L346.82,405.58 L349.47,405.71 L352.11,405.86 L354.76,406.03 L357.40,406.22 L360.05,406.43 L362.69,406.66 L365.33,406.90 L367.98,407.16 L370.62,407.43 L373.27,407.72 L375.91,408.02 L378.56,408.33 L381.20,408.65 L383.84,408.98 L386.49,409.32 L389.13,409.67 L391.78,410.03 L394.42,410.39 L397.07,410.76 L399.71,411.14 L402.35,411.52 L405.00,411.91 L407.64,412.31 L410.29,412.71 L412.93,413.11 L415.58,413.51 L418.22,413.92 L420.86,414.33 L423.51,414.75 L426.15,415.16 L428.80,415.58 L431.44,416.00 L434.09,416.42 L436.73,416.84 L439.37,417.27 L442.02,417.69 L444.66,418.11 L447.31,418.53 L449.95,418.96 L452.60,419.38 L455.24,419.80 L457.88,420.22 L460.53,420.64 L463.17,421.06 L465.82,421.48 L468.46,421.90 L471.11,422.32 L473.75,422.73 L476.39,423.14 L479.04,423.56 L481.68,423.97 L484.33,424.37 L486.97,424.78 L489.62,425.18 L492.26,425.59 L494.90,425.99 L497.55,426.38 L500.19,426.78 L502.84,427.17 L505.48,427.57 L508.12,427.96 L510.77,428.34 L513.41,428.73 L516.06,429.11 L518.70,429.49 L521.35,429.87 L523.99,430.24 L526.63,430.61 L529.28,430.98 L531.92,431.35 L534.57,431.72 L537.21,432.08 L539.86,432.44 L542.50,432.80 L545.14,433.15 L547.79,433.50 L550.43,433.85 L553.08,434.20 L555.72,434.54 L558.37,434.89 L561.01,435.23 L563.65,435.56 L566.30,435.90 L568.94,436.23 L571.59,436.56 L574.23,436.89 L576.88,437.21 L579.52,437.53 L582.16,437.85 L584.81,438.17 L587.45,438.48 L590.10,438.80 L592.74,439.11 L595.39,439.41 L598.03,439.72 L600.67,440.02 L603.32,440.32 L605.96,440.62 L608.61,440.92 L611.25,441.21 L613.90,441.50 L616.54,441.79 L619.18,442.08 L621.83,442.36 L624.47,442.64 L627.12,442.92 L629.76,443.20 L632.41,443.47 L635.05,443.75 L637.69,444.02 L640.34,444.29 L642.98,444.55 L645.63,444.82 L648.27,445.08 L650.91,445.34 L653.56,445.60 L656.20,445.86 L658.85,446.11 L661.49,446.37 L664.14,446.62 L666.78,446.86 L669.42,447.11 L672.07,447.36 L674.71,447.60 L677.36,447.84 L680.00,448.08 L682.65,448.32 L685.29,448.55 L687.93,448.79 L690.58,449.02 L693.22,449.25 L695.87,449.48 L698.51,449.70 L701.16,449.93 L703.80,450.15 L706.44,450.37 L709.09,450.59 L711.73,450.81 L714.38,451.03 L717.02,451.24 L719.67,451.46 L722.31,451.67 L724.95,451.88 L727.60,452.09 L730.24,452.29 L732.89,452.50 L735.53,452.70 L738.18,452.90 L740.82,453.10 L743.46,453.30 L746.11,453.50 L748.75,453.70 L751.40,453.89 L754.04,454.09 L756.69,454.28 L759.33,454.47 L761.97,454.66 L764.62,454.85 L767.26,455.03 L769.91,455.22 L772.55,455.40 L775.20,455.58 L777.84,455.77 L780.48,455.95 L783.13,456.12 L785.77,456.30 L788.42,456.48 L791.06,456.65 L793.71,456.83 L796.35,457.00 L798.99,457.17 L801.64,457.34 L804.28,457.51 L806.93,457.68 L809.57,457.84 L812.21,458.01 L814.86,458.17 L817.50,458.33 L820.15,458.50 L822.79,458.66 L825.44,458.82 L828.08,458.97 L830.72,459.13 L833.37,459.29 L836.01,459.44 L838.66,459.60 L841.30,459.75 L843.95,459.90 L846.59,460.05 L849.23,460.20 L851.88,460.35 L854.52,460.50 L857.17,460.65 L859.81,460.80 L862.46,460.94 L865.10,461.08 L867.74,461.23 L870.39,461.37 L873.03,461.51 L875.68,461.65 L878.32,461.79 L880.97,461.93 L883.61,462.07 L886.25,462.20 L888.90,462.34 L891.54,462.48 L894.19,462.61 L896.83,462.74 L899.48,462.88 L902.12,463.01 L904.76,463.14 L907.41,463.27 L910.05,463.40 L912.70,463.53 L915.34,463.65 L917.99,463.78 L920.63,463.91 L923.27,464.03 L925.92,464.15 L928.56,464.28 L931.21,464.40 L933.85,464.52 L936.50,464.64 L939.14,464.77 L941.78,464.88 L944.43,465.00 L947.07,465.12 L949.72,465.24 L952.36,465.36 L955.00,465.47 L957.65,465.59 L960.29,465.70 L962.94,465.82 L965.58,465.93 L968.23,466.04 L970.87,466.16 L973.51,466.27 L976.16,466.38 L978.80,466.49 L981.45,466.60 L984.09,466.71 L986.74,466.81 L989.38,466.92 L992.02,467.03 L994.67,467.13 L997.31,467.24 L999.96,467.35 L1002.60,467.45 L1005.25,467.55 L1007.89,467.66 L1010.53,467.76 L1013.18,467.86 L1015.82,467.96 L1018.47,468.06 L1021.11,468.16 L1023.76,468.26 L1026.40,468.36" fill="none" stroke="#ff00ff" stroke-width="3.8" stroke-linejoin="round"/>
<path d="M235.77,355.21 L238.41,349.20 L241.05,343.42 L243.70,337.85 L246.34,332.50 L248.99,327.38 L251.63,322.48 L254.28,317.80 L256.92,313.33 L259.56,309.09 L262.21,305.05 L264.85,301.23 L267.50,297.62 L270.14,294.21 L272.79,291.01 L275.43,287.99 L278.07,285.17 L280.72,282.53 L283.36,280.08 L286.01,277.79 L288.65,275.68 L291.30,273.73 L293.94,271.94 L296.58,270.30 L299.23,268.81 L301.87,267.46 L304.52,266.25 L307.16,265.16 L309.81,264.20 L312.45,263.36 L315.09,262.64 L317.74,262.02 L320.38,261.51 L323.03,261.10 L325.67,260.79 L328.32,260.56 L330.96,260.42 L333.60,260.36 L336.25,260.38 L338.89,260.47 L341.54,260.63 L344.18,260.85 L346.82,261.14 L349.47,261.49 L352.11,261.89 L354.76,262.35 L357.40,262.85 L360.05,263.40 L362.69,263.99 L365.33,264.62 L367.98,265.29 L370.62,266.00 L373.27,266.74 L375.91,267.51 L378.56,268.31 L381.20,269.14 L383.84,269.99 L386.49,270.87 L389.13,271.77 L391.78,272.68 L394.42,273.62 L397.07,274.57 L399.71,275.54 L402.35,276.52 L405.00,277.51 L407.64,278.52 L410.29,279.54 L412.93,280.56 L415.58,281.60 L418.22,282.64 L420.86,283.69 L423.51,284.74 L426.15,285.80 L428.80,286.86 L431.44,287.93 L434.09,289.00 L436.73,290.07 L439.37,291.14 L442.02,292.21 L444.66,293.28 L447.31,294.36 L449.95,295.43 L452.60,296.50 L455.24,297.57 L457.88,298.63 L460.53,299.70 L463.17,300.76 L465.82,301.82 L468.46,302.88 L471.11,303.93 L473.75,304.98 L476.39,306.02 L479.04,307.06 L481.68,308.10 L484.33,309.13 L486.97,310.15 L489.62,311.17 L492.26,312.19 L494.90,313.20 L497.55,314.20 L500.19,315.20 L502.84,316.19 L505.48,317.18 L508.12,318.16 L510.77,319.13 L513.41,320.10 L516.06,321.06 L518.70,322.02 L521.35,322.97 L523.99,323.91 L526.63,324.85 L529.28,325.78 L531.92,326.70 L534.57,327.62 L537.21,328.53 L539.86,329.44 L542.50,330.34 L545.14,331.23 L547.79,332.11 L550.43,332.99 L553.08,333.86 L555.72,334.73 L558.37,335.59 L561.01,336.44 L563.65,337.28 L566.30,338.12 L568.94,338.96 L571.59,339.78 L574.23,340.60 L576.88,341.42 L579.52,342.23 L582.16,343.03 L584.81,343.82 L587.45,344.61 L590.10,345.39 L592.74,346.17 L595.39,346.94 L598.03,347.70 L600.67,348.46 L603.32,349.21 L605.96,349.96 L608.61,350.70 L611.25,351.43 L613.90,352.16 L616.54,352.88 L619.18,353.60 L621.83,354.31 L624.47,355.02 L627.12,355.72 L629.76,356.41 L632.41,357.10 L635.05,357.78 L637.69,358.46 L640.34,359.13 L642.98,359.80 L645.63,360.46 L648.27,361.12 L650.91,361.77 L653.56,362.42 L656.20,363.06 L658.85,363.70 L661.49,364.33 L664.14,364.95 L666.78,365.57 L669.42,366.19 L672.07,366.80 L674.71,367.41 L677.36,368.01 L680.00,368.61 L682.65,369.20 L685.29,369.79 L687.93,370.37 L690.58,370.95 L693.22,371.52 L695.87,372.09 L698.51,372.66 L701.16,373.22 L703.80,373.78 L706.44,374.33 L709.09,374.88 L711.73,375.42 L714.38,375.96 L717.02,376.49 L719.67,377.03 L722.31,377.55 L724.95,378.08 L727.60,378.60 L730.24,379.11 L732.89,379.62 L735.53,380.13 L738.18,380.64 L740.82,381.14 L743.46,381.63 L746.11,382.12 L748.75,382.61 L751.40,383.10 L754.04,383.58 L756.69,384.06 L759.33,384.53 L761.97,385.01 L764.62,385.47 L767.26,385.94 L769.91,386.40 L772.55,386.86 L775.20,387.31 L777.84,387.76 L780.48,388.21 L783.13,388.65 L785.77,389.10 L788.42,389.53 L791.06,389.97 L793.71,390.40 L796.35,390.83 L798.99,391.26 L801.64,391.68 L804.28,392.10 L806.93,392.51 L809.57,392.93 L812.21,393.34 L814.86,393.75 L817.50,394.15 L820.15,394.55 L822.79,394.95 L825.44,395.35 L828.08,395.75 L830.72,396.14 L833.37,396.53 L836.01,396.91 L838.66,397.29 L841.30,397.68 L843.95,398.05 L846.59,398.43 L849.23,398.80 L851.88,399.17 L854.52,399.54 L857.17,399.91 L859.81,400.27 L862.46,400.63 L865.10,400.99 L867.74,401.34 L870.39,401.70 L873.03,402.05 L875.68,402.40 L878.32,402.74 L880.97,403.09 L883.61,403.43 L886.25,403.77 L888.90,404.11 L891.54,404.44 L894.19,404.78 L896.83,405.11 L899.48,405.44 L902.12,405.76 L904.76,406.09 L907.41,406.41 L910.05,406.73 L912.70,407.05 L915.34,407.37 L917.99,407.68 L920.63,407.99 L923.27,408.30 L925.92,408.61 L928.56,408.92 L931.21,409.22 L933.85,409.53 L936.50,409.83 L939.14,410.13 L941.78,410.42 L944.43,410.72 L947.07,411.01 L949.72,411.30 L952.36,411.59 L955.00,411.88 L957.65,412.17 L960.29,412.45 L962.94,412.74 L965.58,413.02 L968.23,413.30 L970.87,413.57 L973.51,413.85 L976.16,414.13 L978.80,414.40 L981.45,414.67 L984.09,414.94 L986.74,415.21 L989.38,415.47 L992.02,415.74 L994.67,416.00 L997.31,416.26 L999.96,416.52 L1002.60,416.78 L1005.25,417.04 L1007.89,417.30 L1010.53,417.55 L1013.18,417.80 L1015.82,418.06 L1018.47,418.31 L1021.11,418.55 L1023.76,418.80 L1026.40,419.05" fill="none" stroke="#d2b48c" stroke-width="3.8" stroke-linejoin="round"/>
<rect x="185.30" y="36.70" width="866.33" height="558.35" fill="none" stroke="#262626" stroke-width="2.6"/>
<line x1="185.30" y1="595.05" x2="185.30" y2="605.05" stroke="#262626" stroke-width="2.6"/>
<line x1="185.30" y1="36.70" x2="185.30" y2="26.70" stroke="#262626" stroke-width="2.6"/>
<line x1="269.41" y1="595.05" x2="269.41" y2="605.05" stroke="#262626" stroke-width="2.6"/>
<line x1="269.41" y1="36.70" x2="269.41" y2="26.70" stroke="#262626" stroke-width="2.6"/>
<line x1="353.52" y1="595.05" x2="353.52" y2="605.05" stroke="#262626" stroke-width="2.6"/>
<line x1="353.52" y1="36.70" x2="353.52" y2="26.70" stroke="#262626" stroke-width="2.6"/>
<line x1="437.63" y1="595.05" x2="437.63" y2="605.05" stroke="#262626" stroke-width="2.6"/>
<line x1="437.63" y1="36.70" x2="437.63" y2="26.70" stroke="#262626" stroke-width="2.6"/>
<line x1="521.74" y1="595.05" x2="521.74" y2="605.05" stroke="#262626" stroke-width="2.6"/>
<line x1="521.74" y1="36.70" x2="521.74" y2="26.70" stroke="#262626" stroke-width="2.6"/>
<line x1="605.85" y1="595.05" x2="605.85" y2="605.05" stroke="#262626" stroke-width="2.6"/>
<line x1="605.85" y1="36.70" x2="605.85" y2="26.70" stroke="#262626" stroke-width="2.6"/>
<line x1="689.96" y1="595.05" x2="689.96" y2="605.05" stroke="#262626" stroke-width="2.6"/>
<line x1="689.96" y1="36.70" x2="689.96" y2="26.70" stroke="#262626" stroke-width="2.6"/>
<line x1="774.07" y1="595.05" x2="774.07" y2="605.05" stroke="#262626" stroke-width="2.6"/>
<line x1="774.07" y1="36.70" x2="774.07" y2="26.70" stroke="#262626" stroke-width="2.6"/>
<line x1="858.18" y1="595.05" x2="858.18" y2="605.05" stroke="#262626" stroke-width="2.6"/>
<line x1="858.18" y1="36.70" x2="858.18" y2="26.70" stroke="#262626" stroke-width="2.6"/>
<line x1="942.29" y1="595.05" x2="942.29" y2="605.05" stroke="#262626" stroke-width="2.6"/>
<line x1="942.29" y1="36.70" x2="942.29" y2="26.70" stroke="#262626" stroke-width="2.6"/>
<line x1="1026.40" y1="595.05" x2="1026.40" y2="605.05" stroke="#262626" stroke-width="2.6"/>
<line x1="1026.40" y1="36.70" x2="1026.40" y2="26.70" stroke="#262626" stroke-width="2.6"/>
<line x1="185.30" y1="36.75" x2="175.30" y2="36.75" stroke="#262626" stroke-width="2.6"/>
<line x1="1051.63" y1="36.75" x2="1061.63" y2="36.75" stroke="#262626" stroke-width="2.6"/>
<line x1="185.30" y1="130.25" x2="175.30" y2="130.25" stroke="#262626" stroke-width="2.6"/>
<line x1="1051.63" y1="130.25" x2="1061.63" y2="130.25" stroke="#262626" stroke-width="2.6"/>
<line x1="185.30" y1="223.60" x2="175.30" y2="223.60" stroke="#262626" stroke-width="2.6"/>
<line x1="1051.63" y1="223.60" x2="1061.63" y2="223.60" stroke="#262626" stroke-width="2.6"/>
<line x1="185.30" y1="316.35" x2="175.30" y2="316.35" stroke="#262626" stroke-width="2.6"/>
<line x1="1051.63" y1="316.35" x2="1061.63" y2="316.35" stroke="#262626" stroke-width="2.6"/>
<line x1="185.30" y1="409.50" x2="175.30" y2="409.50" stroke="#262626" stroke-width="2.6"/>
<line x1="1051.63" y1="409.50" x2="1061.63" y2="409.50" stroke="#262626" stroke-width="2.6"/>
<line x1="185.30" y1="502.30" x2="175.30" y2="502.30" stroke="#262626" stroke-width="2.6"/>
<line x1="1051.63" y1="502.30" x2="1061.63" y2="502.30" stroke="#262626" stroke-width="2.6"/>
<line x1="185.30" y1="595.00" x2="175.30" y2="595.00" stroke="#262626" stroke-width="2.6"/>
<line x1="1051.63" y1="595.00" x2="1061.63" y2="595.00" stroke="#262626" stroke-width="2.6"/>
<text x="165.2" y="48.35" font-size="32.5" fill="#262626" text-anchor="end">0.100</text>
<text x="165.2" y="141.85" font-size="32.5" fill="#262626" text-anchor="end">0.080</text>
<text x="165.2" y="235.20" font-size="32.5" fill="#262626" text-anchor="end">0.060</text>
<text x="165.2" y="327.95" font-size="32.5" fill="#262626" text-anchor="end">0.040</text>
<text x="165.2" y="421.10" font-size="32.5" fill="#262626" text-anchor="end">0.020</text>
<text x="165.2" y="513.90" font-size="32.5" fill="#262626" text-anchor="end">0</text>
<text x="165.2" y="606.60" font-size="32.5" fill="#262626" text-anchor="end">-0.020</text>
<rect x="823.8" y="55.4" width="207.80" height="258.90" fill="#fff" stroke="#000" stroke-width="2.4"/>
<line x1="843.8" y1="74.20" x2="923.7" y2="74.20" stroke="#2b2b2b" stroke-width="3.6"/>
<rect x="875.80" y="66.60" width="15.2" height="15.2" fill="#2b2b2b"/>
<text x="929.2" y="83.80" font-size="26.6" fill="#000">Order 1</text>
<line x1="843.8" y1="105.85" x2="923.7" y2="105.85" stroke="#00ffff" stroke-width="3.6"/>
<rect x="875.80" y="98.25" width="15.2" height="15.2" fill="#00ffff"/>
<text x="929.2" y="115.45" font-size="26.6" fill="#000">Order 2</text>
<line x1="843.8" y1="137.50" x2="923.7" y2="137.50" stroke="#0000ff" stroke-width="3.6"/>
<rect x="875.80" y="129.90" width="15.2" height="15.2" fill="#0000ff"/>
<text x="929.2" y="147.10" font-size="26.6" fill="#000">Order 3</text>
<line x1="843.8" y1="169.15" x2="923.7" y2="169.15" stroke="#ff0000" stroke-width="3.6"/>
<rect x="875.80" y="161.55" width="15.2" height="15.2" fill="#ff0000"/>
<text x="929.2" y="178.75" font-size="26.6" fill="#000">Order 4</text>
<line x1="843.8" y1="200.80" x2="923.7" y2="200.80" stroke="#9e1450" stroke-width="3.6"/>
<rect x="875.80" y="193.20" width="15.2" height="15.2" fill="#9e1450"/>
<text x="929.2" y="210.40" font-size="26.6" fill="#000">Order 5</text>
<line x1="843.8" y1="232.45" x2="923.7" y2="232.45" stroke="#00ff00" stroke-width="3.6"/>
<rect x="875.80" y="224.85" width="15.2" height="15.2" fill="#00ff00"/>
<text x="929.2" y="242.05" font-size="26.6" fill="#000">Order 6</text>
<line x1="843.8" y1="264.10" x2="923.7" y2="264.10" stroke="#ff00ff" stroke-width="3.6"/>
<rect x="875.80" y="256.50" width="15.2" height="15.2" fill="#ff00ff"/>
<text x="929.2" y="273.70" font-size="26.6" fill="#000">Order 7</text>
<line x1="843.8" y1="295.75" x2="923.7" y2="295.75" stroke="#d2b48c" stroke-width="3.6"/>
<rect x="875.80" y="288.15" width="15.2" height="15.2" fill="#d2b48c"/>
<text x="929.2" y="305.35" font-size="26.6" fill="#000">Order 8</text>
<line x1="230.72" y1="1205.63" x2="230.72" y2="647.45" stroke="#000" stroke-width="2.5" stroke-dasharray="10 10.46"/>
<line x1="185.30" y1="1112.60" x2="1051.63" y2="1112.60" stroke="#000" stroke-width="2.5" stroke-dasharray="10 10.447"/>
<rect x="228.60" y="1029.40" width="13.4" height="13.4" fill="#000"/>
<rect x="287.94" y="757.60" width="13.4" height="13.4" fill="#000"/>
<rect x="313.18" y="750.10" width="13.4" height="13.4" fill="#000"/>
<rect x="355.23" y="762.90" width="13.4" height="13.4" fill="#000"/>
<rect x="515.04" y="846.10" width="13.4" height="13.4" fill="#000"/>
<rect x="1019.70" y="971.30" width="13.4" height="13.4" fill="#000"/>
<path d="M235.77,895.09 L238.41,886.20 L241.05,877.64 L243.70,869.40 L246.34,861.49 L248.99,853.91 L251.63,846.66 L254.28,839.74 L256.92,833.14 L259.56,826.86 L262.21,820.91 L264.85,815.26 L267.50,809.93 L270.14,804.89 L272.79,800.15 L275.43,795.70 L278.07,791.54 L280.72,787.65 L283.36,784.02 L286.01,780.65 L288.65,777.54 L291.30,774.66 L293.94,772.02 L296.58,769.61 L299.23,767.42 L301.87,765.43 L304.52,763.64 L307.16,762.05 L309.81,760.64 L312.45,759.41 L315.09,758.35 L317.74,757.45 L320.38,756.70 L323.03,756.10 L325.67,755.64 L328.32,755.31 L330.96,755.11 L333.60,755.03 L336.25,755.07 L338.89,755.21 L341.54,755.46 L344.18,755.80 L346.82,756.23 L349.47,756.75 L352.11,757.35 L354.76,758.03 L357.40,758.78 L360.05,759.60 L362.69,760.48 L365.33,761.42 L367.98,762.42 L370.62,763.47 L373.27,764.57 L375.91,765.72 L378.56,766.91 L381.20,768.14 L383.84,769.40 L386.49,770.70 L389.13,772.03 L391.78,773.39 L394.42,774.78 L397.07,776.19 L399.71,777.62 L402.35,779.08 L405.00,780.55 L407.64,782.04 L410.29,783.55 L412.93,785.07 L415.58,786.60 L418.22,788.15 L420.86,789.70 L423.51,791.26 L426.15,792.83 L428.80,794.40 L431.44,795.98 L434.09,797.56 L436.73,799.15 L439.37,800.73 L442.02,802.32 L444.66,803.91 L447.31,805.50 L449.95,807.09 L452.60,808.67 L455.24,810.25 L457.88,811.83 L460.53,813.41 L463.17,814.98 L465.82,816.55 L468.46,818.11 L471.11,819.67 L473.75,821.22 L476.39,822.76 L479.04,824.30 L481.68,825.84 L484.33,827.36 L486.97,828.88 L489.62,830.39 L492.26,831.89 L494.90,833.38 L497.55,834.87 L500.19,836.35 L502.84,837.81 L505.48,839.27 L508.12,840.72 L510.77,842.17 L513.41,843.60 L516.06,845.02 L518.70,846.44 L521.35,847.84 L523.99,849.24 L526.63,850.62 L529.28,852.00 L531.92,853.37 L534.57,854.72 L537.21,856.07 L539.86,857.41 L542.50,858.74 L545.14,860.06 L547.79,861.37 L550.43,862.66 L553.08,863.95 L555.72,865.23 L558.37,866.50 L561.01,867.77 L563.65,869.02 L566.30,870.26 L568.94,871.49 L571.59,872.71 L574.23,873.93 L576.88,875.13 L579.52,876.32 L582.16,877.51 L584.81,878.68 L587.45,879.85 L590.10,881.01 L592.74,882.16 L595.39,883.29 L598.03,884.42 L600.67,885.55 L603.32,886.66 L605.96,887.76 L608.61,888.86 L611.25,889.94 L613.90,891.02 L616.54,892.09 L619.18,893.15 L621.83,894.20 L624.47,895.24 L627.12,896.28 L629.76,897.30 L632.41,898.32 L635.05,899.33 L637.69,900.34 L640.34,901.33 L642.98,902.32 L645.63,903.30 L648.27,904.27 L650.91,905.23 L653.56,906.19 L656.20,907.13 L658.85,908.07 L661.49,909.01 L664.14,909.93 L666.78,910.85 L669.42,911.76 L672.07,912.67 L674.71,913.56 L677.36,914.45 L680.00,915.34 L682.65,916.21 L685.29,917.08 L687.93,917.94 L690.58,918.80 L693.22,919.65 L695.87,920.49 L698.51,921.33 L701.16,922.16 L703.80,922.98 L706.44,923.80 L709.09,924.61 L711.73,925.41 L714.38,926.21 L717.02,927.00 L719.67,927.79 L722.31,928.57 L724.95,929.34 L727.60,930.11 L730.24,930.87 L732.89,931.63 L735.53,932.38 L738.18,933.12 L740.82,933.86 L743.46,934.60 L746.11,935.33 L748.75,936.05 L751.40,936.77 L754.04,937.48 L756.69,938.19 L759.33,938.89 L761.97,939.59 L764.62,940.28 L767.26,940.96 L769.91,941.65 L772.55,942.32 L775.20,942.99 L777.84,943.66 L780.48,944.32 L783.13,944.98 L785.77,945.63 L788.42,946.28 L791.06,946.92 L793.71,947.56 L796.35,948.20 L798.99,948.83 L801.64,949.45 L804.28,950.07 L806.93,950.69 L809.57,951.30 L812.21,951.91 L814.86,952.51 L817.50,953.11 L820.15,953.70 L822.79,954.30 L825.44,954.88 L828.08,955.46 L830.72,956.04 L833.37,956.62 L836.01,957.19 L838.66,957.76 L841.30,958.32 L843.95,958.88 L846.59,959.43 L849.23,959.98 L851.88,960.53 L854.52,961.08 L857.17,961.62 L859.81,962.15 L862.46,962.69 L865.10,963.22 L867.74,963.74 L870.39,964.27 L873.03,964.78 L875.68,965.30 L878.32,965.81 L880.97,966.32 L883.61,966.83 L886.25,967.33 L888.90,967.83 L891.54,968.33 L894.19,968.82 L896.83,969.31 L899.48,969.79 L902.12,970.28 L904.76,970.76 L907.41,971.23 L910.05,971.71 L912.70,972.18 L915.34,972.65 L917.99,973.11 L920.63,973.57 L923.27,974.03 L925.92,974.49 L928.56,974.94 L931.21,975.39 L933.85,975.84 L936.50,976.29 L939.14,976.73 L941.78,977.17 L944.43,977.60 L947.07,978.04 L949.72,978.47 L952.36,978.90 L955.00,979.32 L957.65,979.75 L960.29,980.17 L962.94,980.59 L965.58,981.00 L968.23,981.42 L970.87,981.83 L973.51,982.24 L976.16,982.64 L978.80,983.05 L981.45,983.45 L984.09,983.85 L986.74,984.24 L989.38,984.64 L992.02,985.03 L994.67,985.42 L997.31,985.81 L999.96,986.19 L1002.60,986.57 L1005.25,986.95 L1007.89,987.33 L1010.53,987.71 L1013.18,988.08 L1015.82,988.45 L1018.47,988.82 L1021.11,989.19 L1023.76,989.56 L1026.40,989.92" fill="none" stroke="#000" stroke-width="4.0" stroke-linejoin="round"/>
<rect x="185.30" y="647.45" width="866.33" height="558.18" fill="none" stroke="#262626" stroke-width="2.6"/>
<line x1="185.30" y1="1205.63" x2="185.30" y2="1215.63" stroke="#262626" stroke-width="2.6"/>
<line x1="185.30" y1="647.45" x2="185.30" y2="637.45" stroke="#262626" stroke-width="2.6"/>
<line x1="269.41" y1="1205.63" x2="269.41" y2="1215.63" stroke="#262626" stroke-width="2.6"/>
<line x1="269.41" y1="647.45" x2="269.41" y2="637.45" stroke="#262626" stroke-width="2.6"/>
<line x1="353.52" y1="1205.63" x2="353.52" y2="1215.63" stroke="#262626" stroke-width="2.6"/>
<line x1="353.52" y1="647.45" x2="353.52" y2="637.45" stroke="#262626" stroke-width="2.6"/>
<line x1="437.63" y1="1205.63" x2="437.63" y2="1215.63" stroke="#262626" stroke-width="2.6"/>
<line x1="437.63" y1="647.45" x2="437.63" y2="637.45" stroke="#262626" stroke-width="2.6"/>
<line x1="521.74" y1="1205.63" x2="521.74" y2="1215.63" stroke="#262626" stroke-width="2.6"/>
<line x1="521.74" y1="647.45" x2="521.74" y2="637.45" stroke="#262626" stroke-width="2.6"/>
<line x1="605.85" y1="1205.63" x2="605.85" y2="1215.63" stroke="#262626" stroke-width="2.6"/>
<line x1="605.85" y1="647.45" x2="605.85" y2="637.45" stroke="#262626" stroke-width="2.6"/>
<line x1="689.96" y1="1205.63" x2="689.96" y2="1215.63" stroke="#262626" stroke-width="2.6"/>
<line x1="689.96" y1="647.45" x2="689.96" y2="637.45" stroke="#262626" stroke-width="2.6"/>
<line x1="774.07" y1="1205.63" x2="774.07" y2="1215.63" stroke="#262626" stroke-width="2.6"/>
<line x1="774.07" y1="647.45" x2="774.07" y2="637.45" stroke="#262626" stroke-width="2.6"/>
<line x1="858.18" y1="1205.63" x2="858.18" y2="1215.63" stroke="#262626" stroke-width="2.6"/>
<line x1="858.18" y1="647.45" x2="858.18" y2="637.45" stroke="#262626" stroke-width="2.6"/>
<line x1="942.29" y1="1205.63" x2="942.29" y2="1215.63" stroke="#262626" stroke-width="2.6"/>
<line x1="942.29" y1="647.45" x2="942.29" y2="637.45" stroke="#262626" stroke-width="2.6"/>
<line x1="1026.40" y1="1205.63" x2="1026.40" y2="1215.63" stroke="#262626" stroke-width="2.6"/>
<line x1="1026.40" y1="647.45" x2="1026.40" y2="637.45" stroke="#262626" stroke-width="2.6"/>
<line x1="185.30" y1="647.45" x2="175.30" y2="647.45" stroke="#262626" stroke-width="2.6"/>
<line x1="1051.63" y1="647.45" x2="1061.63" y2="647.45" stroke="#262626" stroke-width="2.6"/>
<line x1="185.30" y1="740.48" x2="175.30" y2="740.48" stroke="#262626" stroke-width="2.6"/>
<line x1="1051.63" y1="740.48" x2="1061.63" y2="740.48" stroke="#262626" stroke-width="2.6"/>
<line x1="185.30" y1="833.51" x2="175.30" y2="833.51" stroke="#262626" stroke-width="2.6"/>
<line x1="1051.63" y1="833.51" x2="1061.63" y2="833.51" stroke="#262626" stroke-width="2.6"/>
<line x1="185.30" y1="926.54" x2="175.30" y2="926.54" stroke="#262626" stroke-width="2.6"/>
<line x1="1051.63" y1="926.54" x2="1061.63" y2="926.54" stroke="#262626" stroke-width="2.6"/>
<line x1="185.30" y1="1019.57" x2="175.30" y2="1019.57" stroke="#262626" stroke-width="2.6"/>
<line x1="1051.63" y1="1019.57" x2="1061.63" y2="1019.57" stroke="#262626" stroke-width="2.6"/>
<line x1="185.30" y1="1112.60" x2="175.30" y2="1112.60" stroke="#262626" stroke-width="2.6"/>
<line x1="1051.63" y1="1112.60" x2="1061.63" y2="1112.60" stroke="#262626" stroke-width="2.6"/>
<line x1="185.30" y1="1205.63" x2="175.30" y2="1205.63" stroke="#262626" stroke-width="2.6"/>
<line x1="1051.63" y1="1205.63" x2="1061.63" y2="1205.63" stroke="#262626" stroke-width="2.6"/>
<text x="165.2" y="659.05" font-size="32.5" fill="#262626" text-anchor="end">0.50</text>
<text x="165.2" y="752.08" font-size="32.5" fill="#262626" text-anchor="end">0.40</text>
<text x="165.2" y="845.11" font-size="32.5" fill="#262626" text-anchor="end">0.30</text>
<text x="165.2" y="938.14" font-size="32.5" fill="#262626" text-anchor="end">0.20</text>
<text x="165.2" y="1031.17" font-size="32.5" fill="#262626" text-anchor="end">0.10</text>
<text x="165.2" y="1124.20" font-size="32.5" fill="#262626" text-anchor="end">0</text>
<text x="165.2" y="1217.23" font-size="32.5" fill="#262626" text-anchor="end">-0.10</text>
<text x="185.30" y="1255.8" font-size="32.8" fill="#262626" text-anchor="middle">0</text>
<text x="353.52" y="1255.8" font-size="32.8" fill="#262626" text-anchor="middle">2</text>
<text x="521.74" y="1255.8" font-size="32.8" fill="#262626" text-anchor="middle">4</text>
<text x="689.96" y="1255.8" font-size="32.8" fill="#262626" text-anchor="middle">6</text>
<text x="858.18" y="1255.8" font-size="32.8" fill="#262626" text-anchor="middle">8</text>
<text x="1026.40" y="1255.8" font-size="32.8" fill="#262626" text-anchor="middle">10</text>
<text x="403" y="1291.4" font-size="34.7" fill="#262626">DIN Concentration (mg N L<tspan font-size="26.4" dy="-17.3">-1</tspan><tspan dy="17.3">)</tspan></text>
<text transform="translate(28.0,314.88) rotate(-90) scale(1.0578,1)" font-size="32.9" fill="#262626" text-anchor="middle">The ratio of N emitting as</text>
<text transform="translate(67.0,316.88) rotate(-90) scale(1.0578,1)" font-size="32.9" fill="#262626" text-anchor="middle">N<tspan font-size="28.4" dy="18.0">2</tspan><tspan dy="-18.0">O against N load (%)</tspan></text>
<text transform="translate(28.0,925.54) rotate(-90) scale(1.0578,1)" font-size="32.9" fill="#262626" text-anchor="middle">The ratio of N emitting as</text>
<text transform="translate(67.0,927.54) rotate(-90) scale(1.0578,1)" font-size="32.9" fill="#262626" text-anchor="middle">N<tspan font-size="28.4" dy="18.0">2</tspan><tspan dy="-18.0">O against N load of CRN (%)</tspan></text>
<text x="-0.75" y="24.0" font-weight="bold" font-size="30.6" fill="#000" style="font-family:'Liberation Sans',sans-serif">A</text>
<text x="0.2" y="643.2" font-weight="bold" font-size="30.6" fill="#000" style="font-family:'Liberation Sans',sans-serif">B</text>
<g fill="#000">
<text x="483.6" y="1028.3" font-size="32.5" font-style="italic">y</text>
<rect x="506.5" y="1016.2" width="22.4" height="1.6"/>
<rect x="506.5" y="1023.8" width="22.4" height="1.6"/>
<rect x="543.1" y="1019.8" width="126.2" height="1.5"/>
<text x="552.6" y="1007.6" font-size="32.5">0.0136</text>
<text x="643.1" y="1007.6" font-size="32.5" font-style="italic">x</text>
<text x="542.4" y="1051.3" font-size="32.5">3.13</text>
<rect x="608.5" y="1041.6" width="21.3" height="1.6"/>
<rect x="618.35" y="1033.2" width="1.6" height="19.7"/>
<text x="640.5" y="1051.3" font-size="32.5" font-style="italic">x</text>
<text x="657.5" y="1041" font-size="21.75">2</text>
<text x="691" y="1028.7" font-size="34" font-style="italic">R</text>
<text x="714.4" y="1014.8" font-size="20.5">2</text>
<rect x="737.2" y="1015.6" width="22" height="1.6"/>
<rect x="737.2" y="1022.8" width="22" height="1.6"/>
<text x="769.6" y="1028.9" font-size="32.5">0.92</text>
</g>
</svg></body></html>
